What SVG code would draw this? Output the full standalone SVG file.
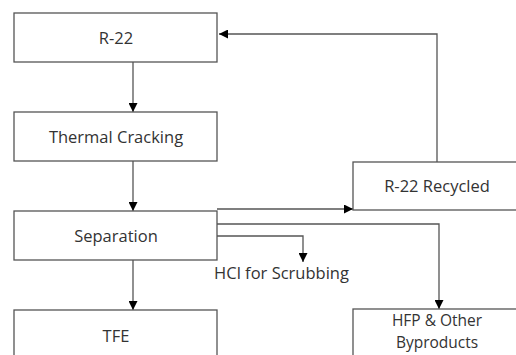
<svg xmlns="http://www.w3.org/2000/svg" width="516" height="355" viewBox="0 0 516 355">
<style>
.box{fill:#fff;stroke:#555;stroke-width:1.3}
.ln{fill:none;stroke:#555;stroke-width:1.3}
text{font-family:"Open Sans","Liberation Sans",sans-serif;font-size:16.5px;fill:#333;text-anchor:middle}
.sm{font-size:15.5px}
</style>
<defs>
<marker id="ah" viewBox="0 0 10 10" refX="10" refY="5" markerWidth="9" markerHeight="9" markerUnits="userSpaceOnUse" orient="auto">
<path d="M0,0 L10,5 L0,10 Z" fill="#000"/>
</marker>
</defs>
<rect width="516" height="355" fill="#fff"/>
<g id="connectors">
<line class="ln" x1="133" y1="62" x2="133" y2="112" marker-end="url(#ah)"/>
<line class="ln" x1="133" y1="161" x2="133" y2="211" marker-end="url(#ah)"/>
<line class="ln" x1="133" y1="260" x2="133" y2="310" marker-end="url(#ah)"/>
<polyline class="ln" points="437,162 437,34 219,34" marker-end="url(#ah)"/>
<line class="ln" x1="217" y1="209" x2="353" y2="209" marker-end="url(#ah)"/>
<polyline class="ln" points="217,224 439,224 439,309" marker-end="url(#ah)"/>
<polyline class="ln" points="217,236 303,236 303,262" marker-end="url(#ah)"/>
</g>
<g id="r22"><rect class="box" x="14" y="13" width="203" height="49"/><text x="116" y="43.5">R-22</text></g>
<g id="thermal"><rect class="box" x="14" y="112" width="203" height="49"/><text x="116" y="142.5">Thermal Cracking</text></g>
<g id="separation"><rect class="box" x="14" y="211" width="203" height="49"/><text x="116" y="241.5">Separation</text></g>
<g id="tfe"><rect class="box" x="14" y="310" width="203" height="60"/><text x="116" y="342">TFE</text></g>
<g id="recycled"><rect class="box" x="353" y="162" width="170" height="48"/><text x="437" y="192">R-22 Recycled</text></g>
<g id="hfp"><rect class="box" x="353" y="309" width="170" height="60"/><text class="sm" x="437" y="326">HFP &amp; Other</text><text class="sm" x="437" y="347.5">Byproducts</text></g>
<g id="hcl"><text x="281.5" y="279">HCl for Scrubbing</text></g>
</svg>
